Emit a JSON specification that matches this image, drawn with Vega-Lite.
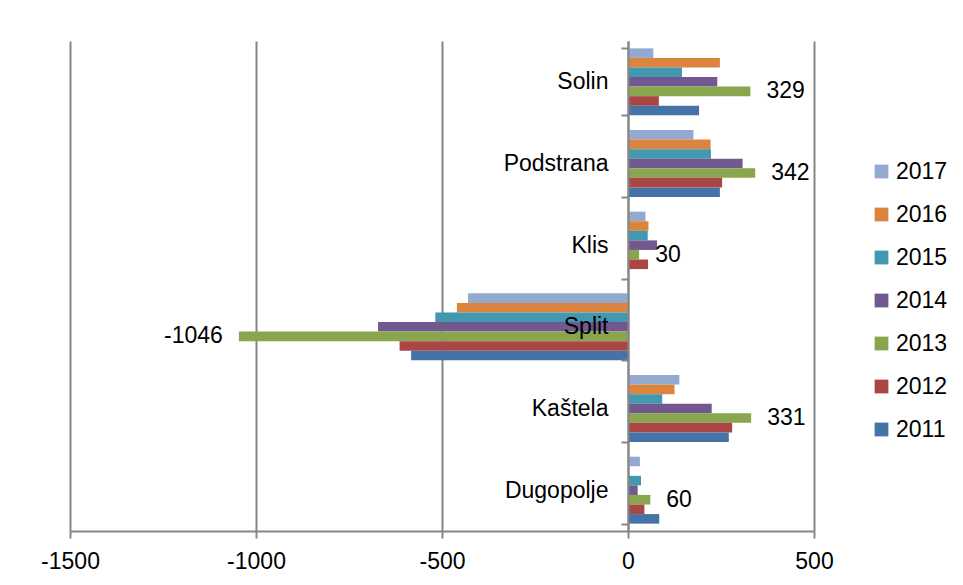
{
  "$schema": "https://vega.github.io/schema/vega-lite/v6.json",
  "width": 744,
  "height": 490,
  "autosize": {"type": "none"},
  "padding": {"left": 70, "top": 41, "right": 149, "bottom": 54},
  "background": "white",
  "config": {
    "font": "Liberation Sans",
    "view": {"stroke": null},
    "locale": {"number": {"decimal": ".", "thousands": ",", "grouping": [3], "currency": ["$", ""], "minus": "-"}}
  },
  "data": {"values": [
    {"city": "Solin", "year": "2017", "value": 68},
    {"city": "Solin", "year": "2016", "value": 247},
    {"city": "Solin", "year": "2015", "value": 145},
    {"city": "Solin", "year": "2014", "value": 240},
    {"city": "Solin", "year": "2013", "value": 329},
    {"city": "Solin", "year": "2012", "value": 83},
    {"city": "Solin", "year": "2011", "value": 191},
    {"city": "Podstrana", "year": "2017", "value": 176},
    {"city": "Podstrana", "year": "2016", "value": 222},
    {"city": "Podstrana", "year": "2015", "value": 223},
    {"city": "Podstrana", "year": "2014", "value": 308},
    {"city": "Podstrana", "year": "2013", "value": 342},
    {"city": "Podstrana", "year": "2012", "value": 253},
    {"city": "Podstrana", "year": "2011", "value": 247},
    {"city": "Klis", "year": "2017", "value": 47},
    {"city": "Klis", "year": "2016", "value": 55},
    {"city": "Klis", "year": "2015", "value": 53},
    {"city": "Klis", "year": "2014", "value": 78},
    {"city": "Klis", "year": "2013", "value": 30},
    {"city": "Klis", "year": "2012", "value": 54},
    {"city": "Split", "year": "2017", "value": -430},
    {"city": "Split", "year": "2016", "value": -460},
    {"city": "Split", "year": "2015", "value": -518},
    {"city": "Split", "year": "2014", "value": -672},
    {"city": "Split", "year": "2013", "value": -1046},
    {"city": "Split", "year": "2012", "value": -614},
    {"city": "Split", "year": "2011", "value": -583},
    {"city": "Kaštela", "year": "2017", "value": 138},
    {"city": "Kaštela", "year": "2016", "value": 125},
    {"city": "Kaštela", "year": "2015", "value": 92},
    {"city": "Kaštela", "year": "2014", "value": 225},
    {"city": "Kaštela", "year": "2013", "value": 331},
    {"city": "Kaštela", "year": "2012", "value": 280},
    {"city": "Kaštela", "year": "2011", "value": 271},
    {"city": "Dugopolje", "year": "2017", "value": 32},
    {"city": "Dugopolje", "year": "2015", "value": 35},
    {"city": "Dugopolje", "year": "2014", "value": 26},
    {"city": "Dugopolje", "year": "2013", "value": 60},
    {"city": "Dugopolje", "year": "2012", "value": 44},
    {"city": "Dugopolje", "year": "2011", "value": 84}
  ]},
  "layer": [
    {
      "mark": {"type": "bar"},
      "encoding": {
        "y": {
          "field": "city", "type": "nominal",
          "sort": ["Solin", "Podstrana", "Klis", "Split", "Kaštela", "Dugopolje"],
          "scale": {"paddingInner": 0.18, "paddingOuter": 0.09},
          "axis": {
            "title": null, "orient": "left", "offset": -558, "tickBand": "extent",
            "domainColor": "#868686", "domainWidth": 2, "tickColor": "#868686", "tickWidth": 2,
            "tickSize": 7, "labelFontSize": 23, "labelColor": "black", "labelPadding": 13,
            "grid": false, "zindex": 1
          }
        },
        "yOffset": {"field": "year", "type": "nominal", "sort": "descending"},
        "x": {
          "field": "value", "type": "quantitative",
          "scale": {"domain": [-1500, 500], "nice": false},
          "axis": {
            "title": null, "values": [-1500, -1000, -500, 0, 500], "format": "d",
            "grid": true, "gridColor": "#868686", "gridWidth": 2,
            "domainColor": "#868686", "domainWidth": 2, "tickColor": "#868686", "tickWidth": 2,
            "tickSize": 7, "labelFontSize": 23, "labelColor": "black", "labelPadding": 12,
            "labelFlush": false
          }
        },
        "color": {
          "field": "year", "type": "nominal",
          "scale": {
            "domain": ["2017", "2016", "2015", "2014", "2013", "2012", "2011"],
            "range": ["#93A9CF", "#DB843D", "#4198AF", "#71588F", "#89A54E", "#AA4643", "#4572A7"]
          },
          "legend": {
            "orient": "none", "legendX": 800, "legendY": 119, "title": null, "padding": 0,
            "labelFontSize": 23, "labelColor": "black", "symbolType": "square",
            "symbolSize": 190, "symbolStrokeWidth": 0, "rowPadding": 19, "labelOffset": 3
          }
        }
      }
    },
    {
      "transform": [{"filter": "datum.year == '2013' && datum.value > 0"}],
      "mark": {"type": "text", "align": "left", "baseline": "middle", "dx": 16, "fontSize": 23, "color": "black"},
      "encoding": {
        "y": {"field": "city", "type": "nominal", "sort": ["Solin", "Podstrana", "Klis", "Split", "Kaštela", "Dugopolje"]},
        "yOffset": {"field": "year", "type": "nominal", "sort": "descending"},
        "x": {"field": "value", "type": "quantitative"},
        "text": {"field": "value", "type": "quantitative", "format": "d"}
      }
    },
    {
      "transform": [{"filter": "datum.year == '2013' && datum.value < 0"}],
      "mark": {"type": "text", "align": "right", "baseline": "middle", "dx": -16, "fontSize": 23, "color": "black"},
      "encoding": {
        "y": {"field": "city", "type": "nominal", "sort": ["Solin", "Podstrana", "Klis", "Split", "Kaštela", "Dugopolje"]},
        "yOffset": {"field": "year", "type": "nominal", "sort": "descending"},
        "x": {"field": "value", "type": "quantitative"},
        "text": {"field": "value", "type": "quantitative", "format": "d"}
      }
    }
  ]
}
